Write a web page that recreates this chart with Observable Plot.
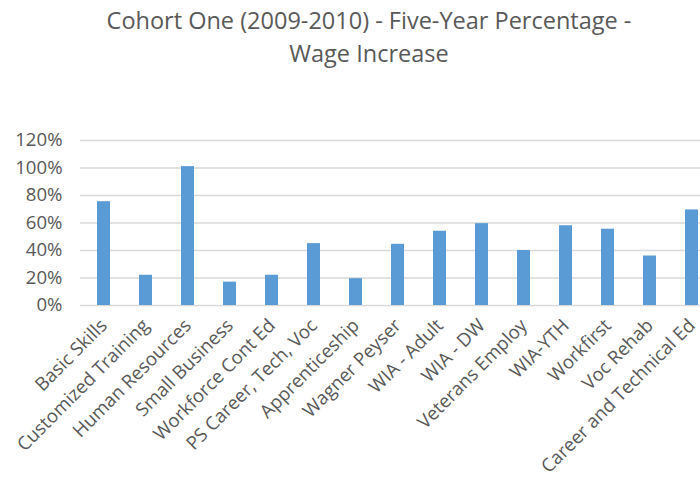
<!DOCTYPE html>
<html>
<head>
<meta charset="utf-8">
<script src="https://cdn.jsdelivr.net/npm/d3@7"></script>
<script src="https://cdn.jsdelivr.net/npm/@observablehq/plot@0.6"></script>
<style>
  html, body { margin: 0; padding: 0; background: #fff; overflow: hidden; }
  body { width: 700px; height: 478px; position: relative; font-family: "Open Sans", sans-serif; }
  #title { position: relative; height: 100px; color: #595959; font-size: 23.5px; line-height: normal; }
  #title div { position: absolute; white-space: nowrap; transform: translateX(-50%); }
  #chart svg { display: block; }
</style>
</head>
<body>
<div id="title"></div>
<div id="chart"></div>
<script>
const titleLines = ["Cohort One (2009-2010) - Five-Year Percentage -", "Wage Increase"];
const categories = ["Basic Skills", "Customized Training", "Human Resources", "Small Business", "Workforce Cont Ed", "PS Career, Tech, Voc", "Apprenticeship", "Wagner Peyser", "WIA - Adult", "WIA - DW", "Veterans Employ", "WIA-YTH", "Workfirst", "Voc Rehab", "Career and Technical Ed"];
const values = [75.5, 22, 101, 17, 22, 45, 19.5, 44.5, 54, 59.5, 40, 58, 55.5, 36, 69.5];
const yTicks = [0, 20, 40, 60, 80, 100, 120];

const title = document.getElementById("title");
const titlePos = [[369, 4], [369, 37]];
titleLines.forEach((t, i) => {
  const d = document.createElement("div");
  d.textContent = t;
  d.style.left = titlePos[i][0] + "px";
  d.style.top = titlePos[i][1] + "px";
  title.appendChild(d);
});

const data = categories.map((c, i) => ({category: c, value: values[i]}));

const chart = Plot.plot({
  width: 700,
  height: 378,
  marginTop: 40,
  marginBottom: 173,
  marginLeft: 80,
  marginRight: 0,
  style: {fontFamily: "Open Sans, sans-serif", fontSize: "18.6px", color: "#595959", background: "white"},
  x: {domain: categories, range: [80, 716], paddingInner: 0.69, paddingOuter: 0.345, label: null},
  y: {domain: [0, 120], ticks: yTicks, label: null},
  marks: [
    Plot.gridY(yTicks, {stroke: "#d9d9d9", strokeOpacity: 1, strokeWidth: 1.3}),
    Plot.barY(data, {x: "category", y: "value", fill: "#5b9bd5"}),
    Plot.axisY(yTicks, {tickSize: 0, tickPadding: 18, tickFormat: d => d + "%", fill: "#595959"}),
    Plot.axisX({tickSize: 0, tickRotate: -45, tickPadding: 17, dx: 0, fill: "#595959"})
  ]
});
document.getElementById("chart").appendChild(chart);
</script>
</body>
</html>
